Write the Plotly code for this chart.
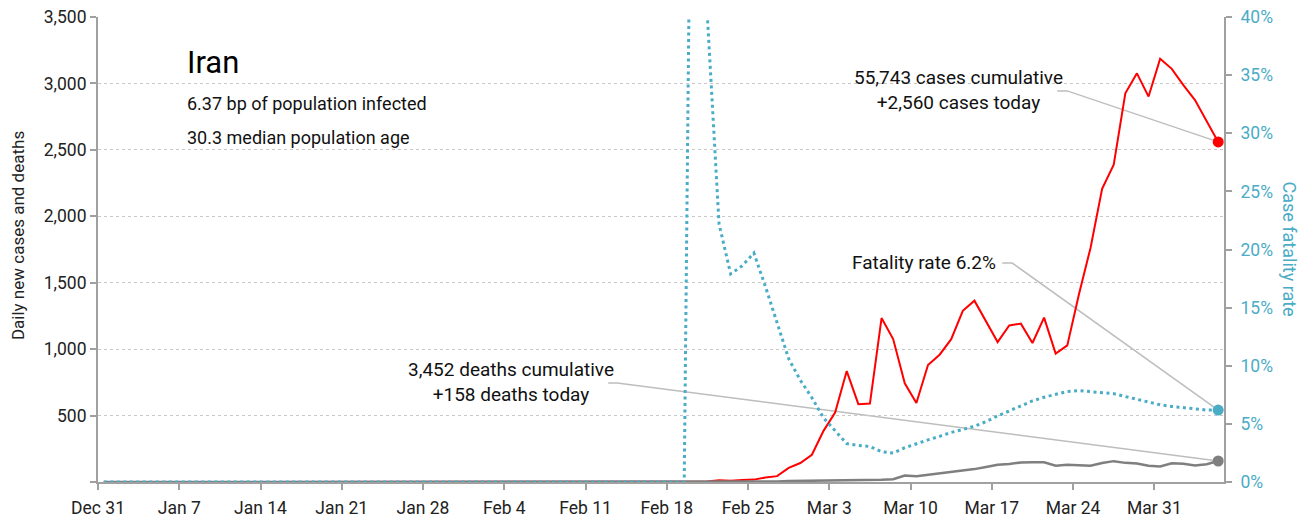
import pandas as pd
import plotly.graph_objects as go

# Iran, daily data Dec 31 2019 .. Apr 5 2020 (nothing reported before Feb 20)
dates = pd.date_range("2019-12-31", "2020-04-05", freq="D")

new_cases = [0] * 51 + [
    2, 3, 13, 10, 15, 18, 34, 44, 106, 143,                     # Feb 20 - Feb 29
    205, 385, 523, 835, 586, 591, 1234, 1076, 743, 595,         # Mar 1 - Mar 10
    881, 958, 1075, 1289, 1365, 1209, 1053, 1178, 1192, 1046,   # Mar 11 - Mar 20
    1237, 966, 1028, 1411, 1762, 2206, 2389, 2926, 3076, 2901,  # Mar 21 - Mar 30
    3186, 3110, 2987, 2875, 2715, 2560,                         # Mar 31 - Apr 5
]

new_deaths = [0] * 51 + [
    2, 0, 2, 1, 3, 4, 4, 3, 7, 8,
    9, 11, 12, 11, 15, 15, 17, 21, 49, 43,
    54, 63, 75, 85, 97, 113, 129, 135, 147, 149,
    149, 123, 129, 127, 122, 143, 157, 144, 139, 123,
    117, 141, 138, 124, 134, 158,
]

# cumulative case fatality rate, %
fatality_rate = [0] * 51 + [
    100.0, 40.0, 22.2, 17.9, 18.6, 19.7, 16.8, 13.7, 10.6, 8.76,
    7.25, 5.52, 4.40, 3.30, 3.15, 3.05, 2.61, 2.49, 2.95, 3.31,
    3.62, 3.93, 4.26, 4.52, 4.80, 5.19, 5.69, 6.11, 6.54, 6.98,
    7.29, 7.55, 7.79, 7.86, 7.79, 7.69, 7.60, 7.35, 7.11, 6.89,
    6.64, 6.50, 6.38, 6.26, 6.19, 6.19,
]

left_ticks = [0, 500, 1000, 1500, 2000, 2500, 3000, 3500]
left_labels = ["", "500", "1,000", "1,500", "2,000", "2,500", "3,000", "3,500"]

RED = "#ff0000"
GREY = "#7f7f7f"
TEAL = "#4bacc6"
AXIS = "#a0a0a0"
FONT = "Roboto, sans-serif"

# points sit in the middle of each day
x = dates + pd.Timedelta(hours=12)
x_last = x[-1].strftime("%Y-%m-%d %H:%M")

fig = go.Figure()
fig.add_trace(go.Scatter(x=x, y=new_cases, mode="lines",
                         line=dict(color=RED, width=2), name="Cases"))
fig.add_trace(go.Scatter(x=x, y=new_deaths, mode="lines",
                         line=dict(color=GREY, width=2.5), name="Deaths"))
fig.add_trace(go.Scatter(x=x, y=fatality_rate, mode="lines", yaxis="y2",
                         line=dict(color=TEAL, width=3, dash="3px,3.5px"), name="CFR"))

# end markers
fig.add_trace(go.Scatter(x=[x[-1]], y=[new_cases[-1]], mode="markers",
                         marker=dict(color=RED, size=11), cliponaxis=False))
fig.add_trace(go.Scatter(x=[x[-1]], y=[new_deaths[-1]], mode="markers",
                         marker=dict(color=GREY, size=11), cliponaxis=False))
fig.add_trace(go.Scatter(x=[x[-1]], y=[fatality_rate[-1]], mode="markers", yaxis="y2",
                         marker=dict(color=TEAL, size=11), cliponaxis=False))

leader = dict(color="#bdbdbd", width=1.5)
fig.add_shape(type="path", xref="x", yref="y", xsizemode="pixel", ysizemode="pixel",
              xanchor=x_last, yanchor=new_cases[-1],
              path="M-161,51 L-151,51 L0,0", line=leader, layer="below")
fig.add_shape(type="path", xref="x", yref="y2", xsizemode="pixel", ysizemode="pixel",
              xanchor=x_last, yanchor=fatality_rate[-1],
              path="M-216,147 L-206,147 L0,0", line=leader, layer="below")
fig.add_shape(type="path", xref="x", yref="y", xsizemode="pixel", ysizemode="pixel",
              xanchor=x_last, yanchor=new_deaths[-1],
              path="M-610,78 L-601,78 L0,0", line=leader, layer="below")


def note(text, x, y, size=19, color="#111", **kw):
    fig.add_annotation(text=text, x=x, y=y, xref="paper", yref="paper", showarrow=False,
                       yanchor="middle", font=dict(family=FONT, size=size, color=color), **kw)


note("Iran", 0.0773, 0.903, size=31, color="#000", xanchor="left")
note("6.37 bp of population infected", 0.0773, 0.815, size=18, xanchor="left")
note("30.3 median population age", 0.0773, 0.740, size=18, xanchor="left")
note("55,743 cases cumulative<br>+2,560 cases today", 0.764, 0.842, xanchor="center", align="center")
note("Fatality rate 6.2%", 0.734, 0.471, xanchor="center")
note("3,452 deaths cumulative<br>+158 deaths today", 0.367, 0.214, xanchor="center", align="center")
note("Daily new cases and deaths", -0.071, 0.529, size=17, color="#222",
     xanchor="center", textangle=-90)
note("Case fatality rate", 1.0586, 0.5, size=18, color=TEAL, xanchor="center", textangle=90)

# the page body adds 8px, margins below are shifted for it
fig.update_layout(
    width=1312, height=523,
    margin=dict(l=90, r=96, t=9, b=49),
    plot_bgcolor="white", paper_bgcolor="white",
    showlegend=False,
    font=dict(family=FONT, size=17, color="#222"),
    xaxis=dict(
        range=["2019-12-31", "2020-04-06"], automargin=False,
        tick0="2019-12-31", dtick=7 * 86400000, tickformat="%b %-d",
        showgrid=False, showline=True, linecolor=AXIS, linewidth=2,
        ticks="outside", ticklen=6, tickcolor=AXIS, tickwidth=2,
        ticklabelstandoff=3, ticklabeloverflow="allow",
        tickfont=dict(size=17.5, color="#222"),
    ),
    yaxis=dict(
        range=[0, 3500], tickvals=left_ticks, ticktext=left_labels, automargin=False,
        showgrid=True, gridcolor="#c8c8c8", griddash="dot", gridwidth=1,
        zeroline=False, showline=True, linecolor=AXIS, linewidth=2,
        ticks="outside", ticklen=6, tickcolor=AXIS, tickwidth=2,
        ticklabeloverflow="allow",
        tickfont=dict(size=17.5, color="#222"),
    ),
    yaxis2=dict(
        range=[0, 40], dtick=5, ticksuffix="%", overlaying="y", side="right", automargin=False,
        showgrid=False, zeroline=False, showline=True, linecolor=AXIS, linewidth=2,
        ticks="outside", ticklen=6, tickcolor=AXIS, tickwidth=2,
        ticklabelstandoff=5, ticklabeloverflow="allow",
        tickfont=dict(size=17.5, color=TEAL),
    ),
)

fig.write_html("out.html")
